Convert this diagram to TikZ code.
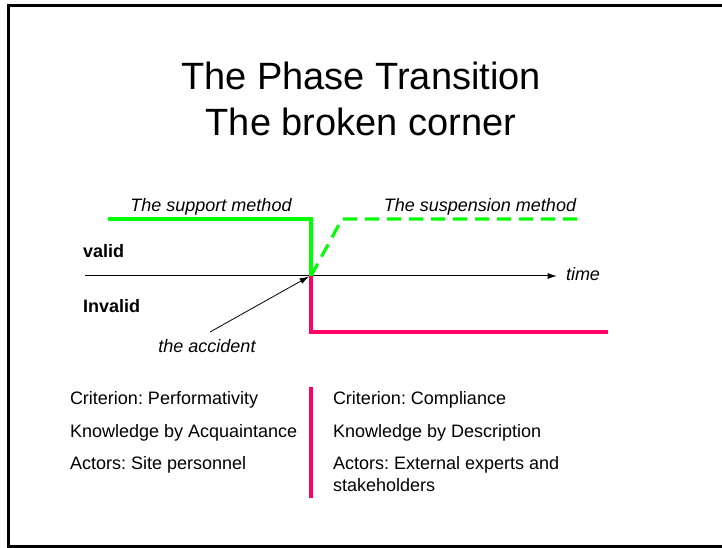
\documentclass[tikz,border=0pt]{standalone}
\usepackage{fontspec}
\setmainfont{Liberation Sans}
\usetikzlibrary{arrows.meta}
\definecolor{okgreen}{RGB}{0,255,0}
\definecolor{failred}{RGB}{255,0,102}
\frenchspacing
\begin{document}
\begin{tikzpicture}[x=0.75pt,y=-0.75pt,
  every node/.style={inner sep=0pt,outer sep=0pt},
  body/.style={font=\fontsize{13.5}{16}\selectfont,anchor=base west},
  slant/.style={font=\fontsize{13.5}{16}\selectfont\itshape,anchor=base},
  bold/.style={font=\fontsize{13.5}{16}\selectfont\bfseries,anchor=base west},
  heading/.style={font=\fontsize{28.5}{34}\selectfont,anchor=base},
  greenline/.style={draw=okgreen,line width=2.3pt},
  redline/.style={draw=failred,line width=2.3pt},
  pointer/.style={-{Latex[length=7pt,width=4.5pt]}}]
  \useasboundingbox (0,0) rectangle (722,548);
  % slide frame
  \draw[line width=1.6pt] (730,5.5) -- (8.5,5.5) -- (8.5,546.5) -- (730,546.5);
  % heading
  \node[heading] (t1) at (361,90) {The Phase Transition};
  \node[heading] (t2) at (361,136) {The broken corner};
  % time axis
  \coordinate (axstart) at (85,276);
  \coordinate (axend) at (557,276);
  \coordinate (corner) at (311,276);
  \draw[line width=0.75pt,pointer] (axstart) -- (axend);
  \node[slant,anchor=base west] (time) at (566,281) {time};
  \node[bold] (valid) at (83,258) {valid};
  \node[bold] (invalid) at (83,313) {Invalid};
  % support method (solid) and suspension method (dashed)
  \coordinate (gs) at (108,219);
  \coordinate (gt) at (311,219);
  \coordinate (dk) at (342,219);
  \coordinate (de) at (585,219);
  \draw[greenline,line join=miter] (gs) -- (gt) -- (corner);
  \draw[greenline,dash pattern=on 10.5pt off 6pt] (corner) -- (dk) -- (de);
  \node[slant] (support) at (211,212) {The support method};
  \node[slant] (suspension) at (480,212) {The suspension method};
  % invalid branch
  \coordinate (rb) at (311,332);
  \coordinate (re) at (608,332);
  \draw[redline,line join=miter] (corner) -- (rb) -- (re);
  % accident marker
  \node[slant] (accident) at (207,353) {the accident};
  \coordinate (accfoot) at (210,332);
  \coordinate (acctip) at (309,276.5);
  \draw[line width=0.6pt,pointer] (accfoot) -- (acctip);
  % two columns of criteria
  \coordinate (divtop) at (311,387);
  \coordinate (divbot) at (311,498);
  \draw[redline] (divtop) -- (divbot);
  \node[body] (l1) at (70,405) {Criterion: Performativity};
  \node[body] (l2) at (70,438) {Knowledge by Acquaintance};
  \node[body] (l3) at (70,470) {Actors: Site personnel};
  \node[body] (r1) at (333,405) {Criterion: Compliance};
  \node[body] (r2) at (333,438) {Knowledge by Description};
  \node[body] (r3) at (333,470) {Actors: External experts and};
  \node[body] (r4) at (333,492) {stakeholders};
\end{tikzpicture}
\end{document}
